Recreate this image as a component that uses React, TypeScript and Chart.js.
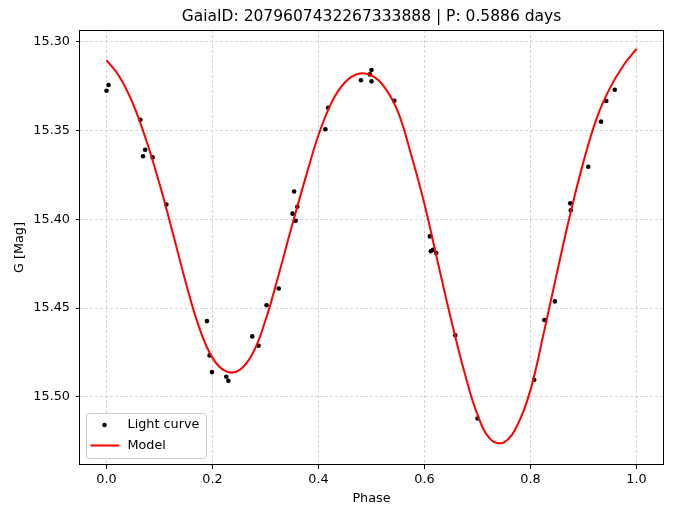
import { useEffect, useRef } from "react";
import { Chart, registerables } from "chart.js";

Chart.register(...registerables);

const TITLE = "GaiaID: 2079607432267333888 | P: 0.5886 days";
const X_LABEL = "Phase";
const Y_LABEL = "G [Mag]";
const LEGEND_POINTS = "Light curve";
const LEGEND_MODEL = "Model";

// Folded photometry
const obsPhase = [
  0.0, 0.004, 0.064, 0.069, 0.073, 0.087, 0.113, 0.1895, 0.1945, 0.199,
  0.226, 0.23, 0.275, 0.287, 0.302, 0.325, 0.351, 0.354, 0.357, 0.36,
  0.413, 0.418, 0.48, 0.497, 0.5, 0.5, 0.543, 0.61, 0.612, 0.616,
  0.622, 0.658, 0.7, 0.807, 0.826, 0.846, 0.875, 0.876, 0.909, 0.933,
  0.943, 0.959,
];
const obsMag = [
  15.3276, 15.3244, 15.3439, 15.3645, 15.3608, 15.3651, 15.3916, 15.4573, 15.4766, 15.486,
  15.4886, 15.4909, 15.4659, 15.4712, 15.4484, 15.4389, 15.3968, 15.3843, 15.4008, 15.3929,
  15.3493, 15.3372, 15.3217, 15.3184, 15.3159, 15.3223, 15.3332, 15.4096, 15.418, 15.4171,
  15.419, 15.4653, 15.5121, 15.4903, 15.4567, 15.4462, 15.391, 15.3949, 15.3704, 15.345,
  15.3334, 15.327,
];

// Fitted model curve
const modelPhase = [
  0.0, 0.025, 0.05, 0.075, 0.1, 0.125, 0.15, 0.175, 0.2, 0.225,
  0.25, 0.275, 0.3, 0.325, 0.35, 0.375, 0.4, 0.425, 0.45, 0.475,
  0.5, 0.525, 0.55, 0.575, 0.6, 0.625, 0.65, 0.675, 0.7, 0.725,
  0.75, 0.775, 0.8, 0.825, 0.85, 0.875, 0.9, 0.925, 0.95, 0.975,
  1.0,
];
const modelMag = [
  15.3103, 15.32, 15.335, 15.3555, 15.38, 15.4075, 15.436, 15.461, 15.478, 15.4855,
  15.485, 15.476, 15.4568, 15.431, 15.4035, 15.3772, 15.3525, 15.334, 15.3228, 15.318,
  15.319, 15.3258, 15.3395, 15.3638, 15.3915, 15.424, 15.4562, 15.4857, 15.51, 15.524,
  15.5255, 15.516, 15.496, 15.464, 15.43, 15.397, 15.3675, 15.343, 15.326, 15.3135,
  15.304,
];

const xTicks = [0.0, 0.2, 0.4, 0.6, 0.8, 1.0];
const yTicks = [15.3, 15.35, 15.4, 15.45, 15.5];

const FONT = "'DejaVu Sans', 'Liberation Sans', sans-serif";

const framePlugin = {
  id: "frame",
  afterDatasetsDraw(chart: any) {
    const { ctx, chartArea } = chart;
    const { left, top, right, bottom } = chartArea;
    ctx.save();

    // axes frame on all four sides
    ctx.strokeStyle = "#000";
    ctx.lineWidth = 1;
    ctx.setLineDash([]);
    ctx.strokeRect(Math.round(left) - 0.5, Math.round(top) + 0.5, Math.round(right - left) + 1, Math.round(bottom - top) - 1);

    // legend in the lower left corner
    const lx = left + 6.5;
    const ly = bottom - 51.5;
    const lw = 120;
    const lh = 45;
    const r = 3;
    ctx.beginPath();
    ctx.moveTo(lx + r, ly);
    ctx.lineTo(lx + lw - r, ly);
    ctx.arcTo(lx + lw, ly, lx + lw, ly + r, r);
    ctx.lineTo(lx + lw, ly + lh - r);
    ctx.arcTo(lx + lw, ly + lh, lx + lw - r, ly + lh, r);
    ctx.lineTo(lx + r, ly + lh);
    ctx.arcTo(lx, ly + lh, lx, ly + lh - r, r);
    ctx.lineTo(lx, ly + r);
    ctx.arcTo(lx, ly, lx + r, ly, r);
    ctx.closePath();
    ctx.fillStyle = "rgba(255,255,255,0.8)";
    ctx.fill();
    ctx.strokeStyle = "#cccccc";
    ctx.stroke();

    const row1 = ly + 11.5;
    const row2 = ly + 32;
    ctx.fillStyle = "#000";
    ctx.beginPath();
    ctx.arc(lx + 18, row1, 2.3, 0, Math.PI * 2);
    ctx.fill();

    ctx.strokeStyle = "#ff0000";
    ctx.lineWidth = 2;
    ctx.beginPath();
    ctx.moveTo(lx + 4, row2);
    ctx.lineTo(lx + 33, row2);
    ctx.stroke();

    ctx.fillStyle = "#000";
    ctx.font = `12.8px ${FONT}`;
    ctx.textBaseline = "middle";
    ctx.textAlign = "left";
    ctx.fillText(LEGEND_POINTS, lx + 41, row1);
    ctx.fillText(LEGEND_MODEL, lx + 41, row2);

    // title centred over the plot area
    ctx.font = `15.5px ${FONT}`;
    ctx.textAlign = "center";
    ctx.fillText(TITLE, (left + right) / 2, 17);
    ctx.restore();
  },
};

export default function App() {
  const canvasRef = useRef<HTMLCanvasElement | null>(null);

  useEffect(() => {
    const canvas = canvasRef.current;
    if (!canvas) return;

    const points = obsPhase.map((x, i) => ({ x, y: obsMag[i] }));
    const model = modelPhase.map((x, i) => ({ x, y: modelMag[i] }));
    const tickFont = { family: FONT, size: 12.8 };
    const titleFont = { family: FONT, size: 12.8 };

    const chart = new Chart(canvas, {
      type: "scatter",
      data: {
        datasets: [
          {
            label: LEGEND_POINTS,
            data: points,
            showLine: false,
            pointRadius: 2.3,
            pointHoverRadius: 2.3,
            pointBackgroundColor: "#000",
            pointBorderWidth: 0,
            order: 2,
          },
          {
            type: "line",
            label: LEGEND_MODEL,
            data: model,
            showLine: true,
            borderColor: "#ff0000",
            borderWidth: 2,
            pointRadius: 0,
            fill: false,
            tension: 0.4,
            order: 1,
          } as any,
        ],
      },
      options: {
        responsive: false,
        animation: false,
        events: [],
        layout: { padding: { top: 30, right: 12, left: 0, bottom: 0 } },
        plugins: {
          legend: { display: false },
          title: { display: false },
          tooltip: { enabled: false },
        },
        scales: {
          x: {
            type: "linear",
            min: -0.05,
            max: 1.05,
            afterBuildTicks: (s: any) => {
              s.ticks = xTicks.map((value) => ({ value }));
            },
            afterFit: (s: any) => {
              s.height = 44;
            },
            ticks: {
              callback: (v: any) => Number(v).toFixed(1),
              font: tickFont,
              color: "#000",
              padding: 3,
              maxRotation: 0,
            },
            grid: {
              color: "#d4d4d4",
              lineWidth: 1,
              drawTicks: true,
              tickLength: 4,
              tickColor: "#000",
              tickWidth: 1,
              tickBorderDash: [],
            },
            border: { display: false, dash: [3, 2] },
            title: {
              display: true,
              text: X_LABEL,
              font: titleFont,
              color: "#000",
              padding: { top: 0, bottom: 3 },
            },
          },
          y: {
            type: "linear",
            reverse: true,
            min: 15.2934,
            max: 15.5383,
            afterBuildTicks: (s: any) => {
              s.ticks = yTicks.map((value) => ({ value }));
            },
            afterFit: (s: any) => {
              s.width = 80;
            },
            ticks: {
              callback: (v: any) => Number(v).toFixed(2),
              font: tickFont,
              color: "#000",
              padding: 6,
            },
            grid: {
              color: "#d4d4d4",
              lineWidth: 1,
              drawTicks: true,
              tickLength: 4,
              tickColor: "#000",
              tickWidth: 1,
              tickBorderDash: [],
            },
            border: { display: false, dash: [3, 2] },
            title: {
              display: true,
              text: Y_LABEL,
              font: titleFont,
              color: "#000",
              padding: { top: 12, bottom: 0 },
            },
          },
        },
      },
      plugins: [framePlugin],
    });

    return () => chart.destroy();
  }, []);

  return (
    <div style={{ position: "fixed", left: 0, top: 0, width: 675, height: 509, background: "#fff" }}>
      <canvas ref={canvasRef} width={675} height={509} style={{ display: "block" }} />
    </div>
  );
}
